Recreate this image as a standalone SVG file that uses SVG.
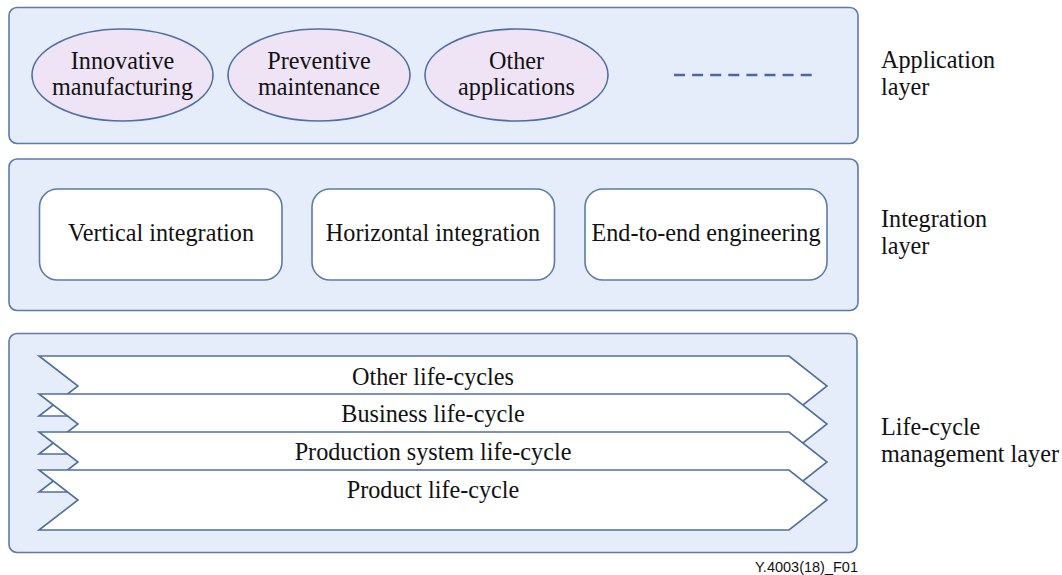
<svg xmlns="http://www.w3.org/2000/svg" width="1062" height="575" viewBox="0 0 1062 575">
<style>
.layer{fill:#e5edfb;stroke:#5b7bab;stroke-width:1.6}
.ell{fill:#eee4f5;stroke:#4f6fa0;stroke-width:1.6}
.box{fill:#ffffff;stroke:#5b7bab;stroke-width:1.6}
.chev{fill:#ffffff;stroke:#4f6fa0;stroke-width:1.6;stroke-linejoin:miter}
text{font-family:"Liberation Serif","Times New Roman",serif;font-size:24.2px;fill:#111}
.c{text-anchor:middle}
.note{font-family:"Liberation Sans",Arial,sans-serif;font-size:14.5px;text-anchor:end}
</style>
<rect width="1062" height="575" fill="#ffffff"/>
<g id="application-layer">
<rect class="layer" x="9" y="7.5" width="849" height="136" rx="8"/>
<text x="881" y="68">Application</text>
<text x="881" y="95">layer</text>
</g>
<g id="innovative-manufacturing">
<ellipse class="ell" cx="122.5" cy="75" rx="90.5" ry="46"/>
<text class="c" x="122.5" y="69">Innovative</text>
<text class="c" x="122.5" y="95">manufacturing</text>
</g>
<g id="preventive-maintenance">
<ellipse class="ell" cx="319" cy="75" rx="91" ry="46"/>
<text class="c" x="319" y="69">Preventive</text>
<text class="c" x="319" y="95">maintenance</text>
</g>
<g id="other-applications">
<ellipse class="ell" cx="516.5" cy="75" rx="91.5" ry="46"/>
<text class="c" x="516.5" y="69">Other</text>
<text class="c" x="516.5" y="95">applications</text>
</g>
<g id="more-applications">
<line x1="674" y1="75" x2="812" y2="75" stroke="#4a6a9e" stroke-width="2.5" stroke-dasharray="11 7.1"/>
</g>
<g id="integration-layer">
<rect class="layer" x="9" y="159" width="849" height="151.5" rx="8"/>
<text x="881" y="227">Integration</text>
<text x="881" y="254">layer</text>
</g>
<g id="vertical-integration">
<rect class="box" x="39.5" y="189" width="242.5" height="91" rx="18"/>
<text class="c" x="161" y="241">Vertical integration</text>
</g>
<g id="horizontal-integration">
<rect class="box" x="312" y="189" width="242.5" height="91" rx="18"/>
<text class="c" x="433" y="241">Horizontal integration</text>
</g>
<g id="end-to-end-engineering">
<rect class="box" x="585" y="189" width="242" height="91" rx="18"/>
<text class="c" x="706" y="241">End-to-end engineering</text>
</g>
<g id="life-cycle-management-layer">
<rect class="layer" x="9" y="333.5" width="848" height="219" rx="8"/>
<text x="881" y="435">Life-cycle</text>
<text x="881" y="462">management layer</text>
</g>
<g id="connectors"></g>
<g id="other-life-cycles">
<polygon class="chev" points="39,356 789,356 827,386 789,416 39,416 78,386"/>
<text class="c" x="433" y="385">Other life-cycles</text>
</g>
<g id="business-life-cycle">
<polygon class="chev" points="39,394 789,394 827,424 789,454 39,454 78,424"/>
<text class="c" x="433" y="422">Business life-cycle</text>
</g>
<g id="production-system-life-cycle">
<polygon class="chev" points="39,432 789,432 827,462 789,492 39,492 78,462"/>
<text class="c" x="433" y="460">Production system life-cycle</text>
</g>
<g id="product-life-cycle">
<polygon class="chev" points="39,470 789,470 827,500 789,530 39,530 78,500"/>
<text class="c" x="433" y="498">Product life-cycle</text>
</g>
<text class="note" x="858" y="572">Y.4003(18)_F01</text>
</svg>
